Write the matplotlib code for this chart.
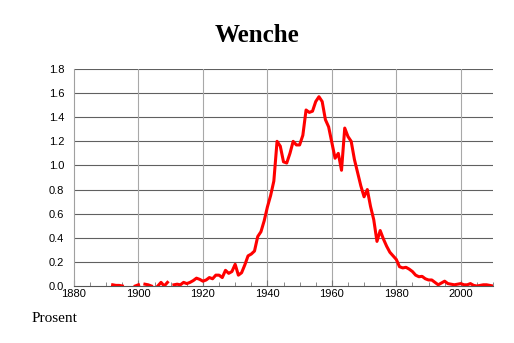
import numpy as np
import matplotlib
matplotlib.use("Agg")
import matplotlib.pyplot as plt
from matplotlib.ticker import MultipleLocator

nan = np.nan

# år og prosent (lest av bildet), hull = manglende data
years = list(range(1892, 2011))
percent = [
    0.01, 0.005, 0.005, 0.0,          # 1892-1895
    nan, nan, nan,                    # 1896-1898
    0.0, 0.01,                        # 1899-1900
    nan,                              # 1901
    0.015, 0.01, 0.0,                 # 1902-1904
    nan,                              # 1905
    0.0, 0.03, 0.0, 0.03,             # 1906-1909
    nan,                              # 1910
    0.01, 0.015, 0.01, 0.03, 0.02, 0.03, 0.045, 0.065, 0.055,   # 1911-1919
    0.04, 0.05, 0.07, 0.06, 0.09, 0.09, 0.07, 0.13, 0.105, 0.12,  # 1920-1929
    0.18, 0.09, 0.11, 0.175, 0.25, 0.265, 0.29, 0.41, 0.45, 0.54,  # 1930-1939
    0.655, 0.75, 0.87, 1.20, 1.16, 1.03, 1.02, 1.10, 1.20, 1.17,   # 1940-1949
    1.17, 1.25, 1.46, 1.44, 1.45, 1.53, 1.57, 1.53, 1.38, 1.32,    # 1950-1959
    1.19, 1.06, 1.10, 0.96, 1.31, 1.24, 1.20, 1.05, 0.94, 0.83,    # 1960-1969
    0.74, 0.80, 0.66, 0.55, 0.37, 0.46, 0.39, 0.33, 0.28, 0.25,    # 1970-1979
    0.22, 0.16, 0.15, 0.155, 0.14, 0.12, 0.09, 0.077, 0.08, 0.06,  # 1980-1989
    0.05, 0.05, 0.03, 0.01, 0.025, 0.04, 0.02, 0.015, 0.01, 0.015, # 1990-1999
    0.02, 0.01, 0.01, 0.02, 0.005, 0.0, 0.005, 0.01, 0.01, 0.005,  # 2000-2009
    0.0,                                                           # 2010
]

xticks = [1880, 1900, 1920, 1940, 1960, 1980, 2000]
yticks = [0.0, 0.2, 0.4, 0.6, 0.8, 1.0, 1.2, 1.4, 1.6, 1.8]

fig = plt.figure(figsize=(5.14, 3.43), dpi=100)
ax = fig.add_axes([74 / 514, 1 - 286 / 343, (493 - 74) / 514, (286 - 69) / 343])

ax.plot(years, percent, color="#ff0000", linewidth=2.2, solid_joinstyle="round", zorder=3)

ax.set_xlim(1880, 2010)
ax.set_ylim(0, 1.8)
ax.set_xticks(xticks)
ax.set_yticks(yticks)
ax.set_yticklabels([f"{v:.1f}" for v in yticks])
ax.xaxis.set_minor_locator(MultipleLocator(5))

# rutenett
for y in yticks[1:]:
    ax.axhline(y, color="#606060", linewidth=0.8, zorder=1)
for x in xticks[1:]:
    ax.axvline(x, color="#a8a8a8", linewidth=0.8, zorder=1)

for s in ["top", "right"]:
    ax.spines[s].set_visible(False)
ax.spines["left"].set_color("#a0a0a0")
ax.spines["left"].set_linewidth(0.8)
ax.spines["bottom"].set_color("#555555")
ax.spines["bottom"].set_linewidth(0.8)

ax.tick_params(axis="x", which="both", direction="in", length=4, color="#777777",
               labelsize=8, pad=2)
ax.tick_params(axis="x", which="minor", length=3)
ax.tick_params(axis="y", length=0, labelsize=8, pad=7)
for lab in ax.get_xticklabels() + ax.get_yticklabels():
    lab.set_family("Liberation Sans")

fig.text(0.5, 1 - 42 / 343, "Wenche", ha="center", va="baseline",
         fontsize=18, fontweight="bold", family="Liberation Serif")
fig.text(32 / 514, 1 - 322 / 343, "Prosent", ha="left", va="baseline",
         fontsize=11, family="Liberation Serif")

fig.savefig("out.png", dpi=100)
